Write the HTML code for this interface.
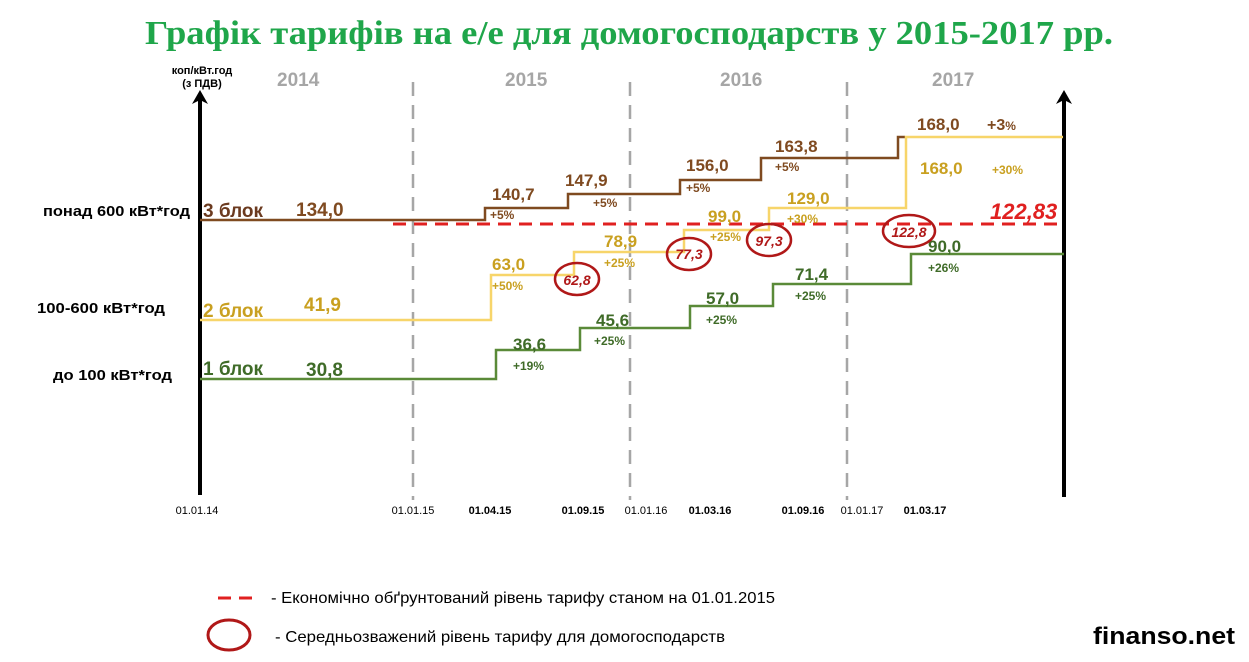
<!DOCTYPE html>
<html><head><meta charset="utf-8"><style>
html,body{margin:0;padding:0;background:#fff;}
svg{display:block;}
text{font-family:"Liberation Sans","DejaVu Sans",sans-serif;}
.b{font-weight:bold;}
</style></head><body>
<svg width="1249" height="662" viewBox="0 0 1249 662" xmlns="http://www.w3.org/2000/svg">
<text x="145" y="44" textLength="968" lengthAdjust="spacingAndGlyphs" style="font-family:'Liberation Serif',serif;font-weight:bold;font-size:34px;fill:#1fa64a">Графік тарифів на е/е для домогосподарств у 2015-2017 рр.</text>

<g class="b" fill="#a6a6a6" font-size="19">
<text x="277" y="86">2014</text><text x="505" y="86">2015</text><text x="720" y="86">2016</text><text x="932" y="86">2017</text>
</g>
<g stroke="#a6a6a6" stroke-width="2.5" stroke-dasharray="14,9">
<line x1="413" y1="82" x2="413" y2="500"/><line x1="630" y1="82" x2="630" y2="500"/><line x1="847" y1="82" x2="847" y2="500"/>
</g>
<line x1="200" y1="98" x2="200" y2="495" stroke="#000" stroke-width="4"/>
<path d="M200 90 L192 104 L200 100 L208 104 Z" fill="#000"/>
<line x1="1064" y1="98" x2="1064" y2="497" stroke="#000" stroke-width="4"/>
<path d="M1064 90 L1056 104 L1064 100 L1072 104 Z" fill="#000"/>
<text x="202" y="74" text-anchor="middle" font-size="11" class="b">коп/кВт.год</text>
<text x="202" y="87" text-anchor="middle" font-size="11" class="b">(з ПДВ)</text>

<line x1="393" y1="224" x2="1064" y2="224" stroke="#e02020" stroke-width="3" stroke-dasharray="13,8"/>

<polyline fill="none" stroke="#7f4a20" stroke-width="2.5" points="200,220 485,220 485,208 568,208 568,194 680,194 680,180 761,180 761,158 898,158 898,137 905,137"/>
<polyline fill="none" stroke="#f7d56a" stroke-width="2.5" points="200,320 491,320 491,275 574,275 574,252 684,252 684,230 769,230 769,208 906,208 906,137 1063,137"/>
<polyline fill="none" stroke="#5a8a38" stroke-width="2.5" points="200,379 496,379 496,350 580,350 580,328 690,328 690,306 773,306 773,284 911,284 911,254 1064,254"/>

<g class="b" font-size="15" fill="#000">
<text x="43" y="216" textLength="147" lengthAdjust="spacingAndGlyphs">понад 600 кВт*год</text>
<text x="37" y="313" textLength="128" lengthAdjust="spacingAndGlyphs">100-600 кВт*год</text>
<text x="53" y="380" textLength="119" lengthAdjust="spacingAndGlyphs">до 100 кВт*год</text>
</g>
<g class="b" font-size="19">
<text x="203" y="217" fill="#6b3a1f">3 блок</text><text x="296" y="216" fill="#7f4a20">134,0</text>
<text x="203" y="317" fill="#c9a020">2 блок</text><text x="304" y="311" fill="#c9a020">41,9</text>
<text x="203" y="375" fill="#3f6b28">1 блок</text><text x="306" y="376" fill="#3f6b28">30,8</text>
</g>
<g class="b" fill="#7f4a20">
<text x="492" y="200" font-size="17">140,7</text><text x="490" y="219" font-size="12">+5%</text>
<text x="565" y="186" font-size="17">147,9</text><text x="593" y="207" font-size="12">+5%</text>
<text x="686" y="171" font-size="17">156,0</text><text x="686" y="192" font-size="12">+5%</text>
<text x="775" y="152" font-size="17">163,8</text><text x="775" y="171" font-size="12">+5%</text>
<text x="917" y="130" font-size="17">168,0</text><text x="987" y="130" font-size="16">+3<tspan font-size="12">%</tspan></text>
</g>
<g class="b" fill="#c9a020">
<text x="492" y="270" font-size="17">63,0</text><text x="492" y="290" font-size="12">+50%</text>
<text x="604" y="247" font-size="17">78,9</text><text x="604" y="267" font-size="12">+25%</text>
<text x="708" y="222" font-size="17">99,0</text><text x="710" y="241" font-size="12">+25%</text>
<text x="787" y="204" font-size="17">129,0</text><text x="787" y="223" font-size="12">+30%</text>
<text x="920" y="174" font-size="17">168,0</text><text x="992" y="174" font-size="12">+30%</text>
</g>
<g class="b" fill="#3f6b28">
<text x="513" y="350" font-size="17">36,6</text><text x="513" y="370" font-size="12">+19%</text>
<text x="596" y="326" font-size="17">45,6</text><text x="594" y="345" font-size="12">+25%</text>
<text x="706" y="304" font-size="17">57,0</text><text x="706" y="324" font-size="12">+25%</text>
<text x="795" y="280" font-size="17">71,4</text><text x="795" y="300" font-size="12">+25%</text>
<text x="928" y="252" font-size="17">90,0</text><text x="928" y="272" font-size="12">+26%</text>
</g>
<text x="990" y="219" font-size="22" class="b" font-style="italic" fill="#e02020">122,83</text>

<g fill="none" stroke="#b01818" stroke-width="2.5">
<ellipse cx="577" cy="279" rx="22" ry="16"/>
<ellipse cx="689" cy="254" rx="22" ry="16"/>
<ellipse cx="769" cy="240" rx="22" ry="16"/>
<ellipse cx="909" cy="231" rx="26" ry="16"/>
</g>
<g font-size="14" font-style="italic" class="b" fill="#b01818" text-anchor="middle">
<text x="577" y="285">62,8</text><text x="689" y="259">77,3</text><text x="769" y="246">97,3</text><text x="909" y="237">122,8</text>
</g>

<g font-size="11" fill="#000">
<text x="197" y="514" text-anchor="middle">01.01.14</text>
<text x="413" y="514" text-anchor="middle">01.01.15</text>
<text x="490" y="514" text-anchor="middle" class="b">01.04.15</text>
<text x="583" y="514" text-anchor="middle" class="b">01.09.15</text>
<text x="646" y="514" text-anchor="middle">01.01.16</text>
<text x="710" y="514" text-anchor="middle" class="b">01.03.16</text>
<text x="803" y="514" text-anchor="middle" class="b">01.09.16</text>
<text x="862" y="514" text-anchor="middle">01.01.17</text>
<text x="925" y="514" text-anchor="middle" class="b">01.03.17</text>
</g>

<line x1="218" y1="598" x2="260" y2="598" stroke="#e02020" stroke-width="3" stroke-dasharray="13,8"/>
<text x="271" y="603" font-size="16" textLength="504" lengthAdjust="spacingAndGlyphs">- Економічно обґрунтований рівень тарифу станом на 01.01.2015</text>
<ellipse cx="229" cy="635" rx="21" ry="15" fill="none" stroke="#b01818" stroke-width="3"/>
<text x="275" y="642" font-size="16" textLength="450" lengthAdjust="spacingAndGlyphs">- Середньозважений рівень тарифу для домогосподарств</text>
<text x="1093" y="644" font-size="24" class="b" fill="#000" textLength="142" lengthAdjust="spacingAndGlyphs">finanso.net</text>
</svg>
</body></html>
